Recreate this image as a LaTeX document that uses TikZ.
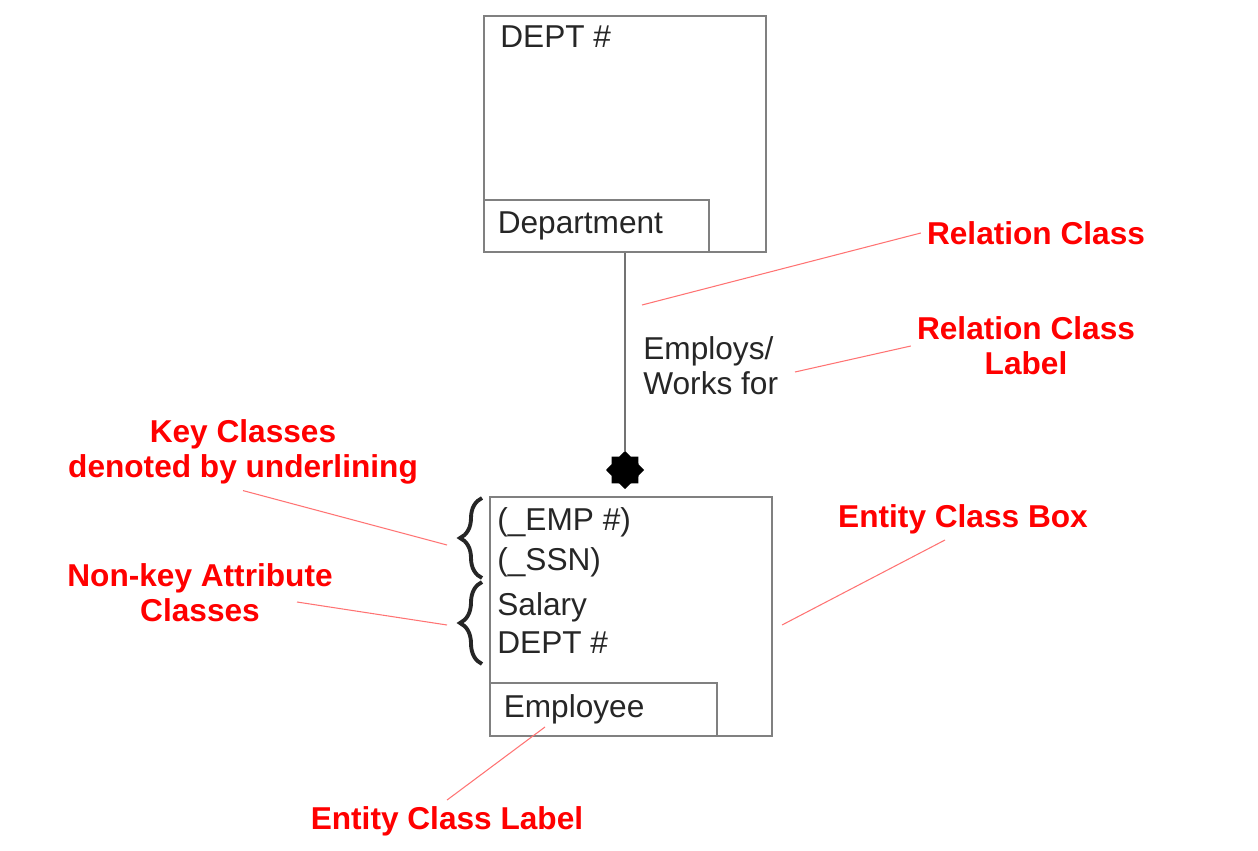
\documentclass[tikz,border=0pt]{standalone}
\usepackage{fontspec}
\setmainfont{Liberation Sans}
\usetikzlibrary{shapes.geometric,decorations.pathreplacing}
\begin{document}
\begin{tikzpicture}
			[x=0.02cm,y=-0.02cm,
			box/.style={draw=black!50,line width=0.9pt,inner sep=0pt},
			namebox/.style={draw=black!50,line width=0.9pt,inner xsep=0.28cm,
				inner ysep=0pt,align=left,text=black!85,font=\fontsize{18}{20}\selectfont},
			attr/.style={anchor=west,inner sep=0pt,text=black!85,font=\fontsize{18}{20}\selectfont},
			note/.style={text=red,align=center,font=\bfseries\fontsize{18}{20}\selectfont},
			leader/.style={draw=red!55,line width=0.6pt},
			curly/.style={decorate,decoration={brace,amplitude=0.44cm},line width=2.2pt,black!85}]
			\useasboundingbox (0,0) rectangle (1258,851);
			% department
			\node[box,anchor=north west,minimum width=5.64cm,minimum height=4.72cm] (dept) at (483,15) {};
			\node[namebox,anchor=south west,text width=3.94cm,minimum height=1.04cm] (deptlbl) at (dept.south west) {Department};
			\node[attr] (deptno) at (500,37) {DEPT \#};
			% employee
			\node[box,anchor=north west,minimum width=5.64cm,minimum height=4.78cm] (emp) at (489,496) {};
			\node[namebox,anchor=south west,text width=3.98cm,minimum height=1.06cm] (emplbl) at (emp.south west) {Employee};
			\node[attr] (empno) at (497,522) {(\_EMP \#)};
			\node[attr] (ssn) at (497,562) {(\_SSN)};
			\node[attr] (salary) at (497,607) {Salary};
			\node[attr] (empdept) at (497,643) {DEPT \#};
			% relation
			\node[star,star points=8,star point ratio=1.3,fill=black,inner sep=0pt,minimum size=0.76cm] (dot) at (625,470) {};
			\draw[black!55,line width=0.9pt] (dept.south -| dot) -- (dot.north);
			\node[attr,align=left] (works) at (643,366) {Employs/\\Works for};
			% braces
			\coordinate (k1) at (482,578);
			\coordinate (k2) at (482,498);
			\coordinate (n1) at (482,664);
			\coordinate (n2) at (482,582);
			\draw[curly] (k1) -- (k2);
			\draw[curly] (n1) -- (n2);
			% notes
			\node[note] (relcls) at (1036,233) {Relation Class};
			\node[note] (rellbl) at (1026,346) {Relation Class\\Label};
			\node[note] (keycls) at (243,452) {Key Classes\\denoted by underlining};
			\node[note] (nonkey) at (200,593) {Non-key Attribute\\Classes};
			\node[note] (entbox) at (963,519) {Entity Class Box};
			\node[note] (entlbl) at (447,821) {Entity Class Label};
			\coordinate (a1) at (642,305);
			\coordinate (a2) at (795,372);
			\coordinate (a3) at (447,545);
			\coordinate (a4) at (447,625);
			\coordinate (a5) at (782,625);
			\coordinate (a6) at (545,727);
			\coordinate (b4) at (297,602);
			\coordinate (b5) at (945,540);
			\draw[leader] (relcls.west) -- (a1);
			\draw[leader] (rellbl.west) -- (a2);
			\draw[leader] (keycls.south) -- (a3);
			\draw[leader] (b4) -- (a4);
			\draw[leader] (b5) -- (a5);
			\draw[leader] (entlbl.north) -- (a6);
		\end{tikzpicture}
\end{document}
